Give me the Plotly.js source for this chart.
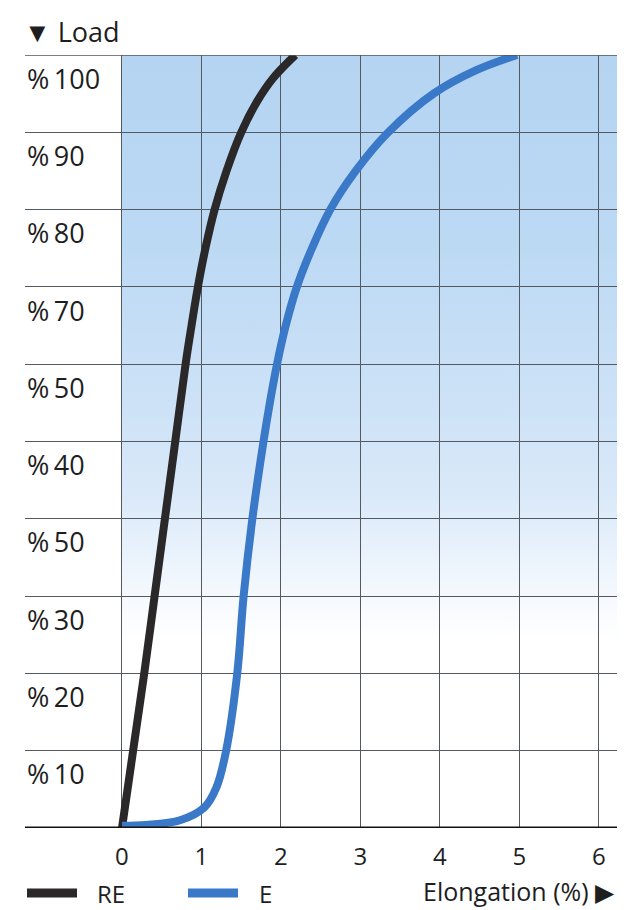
<!DOCTYPE html>
<html><head><meta charset="utf-8">
<script src="https://cdn.plot.ly/plotly-3.0.1.min.js"></script>
<style>html,body{margin:0;padding:0;background:#fff}#chart{width:639px;height:910px}</style>
</head><body><div id="chart"></div>
<script>
const seriesNames = ['RE', 'E'];
const reElong = [0, 0.14, 0.28, 0.41, 0.54, 0.67, 0.80, 0.875, 0.955, 1.05, 1.165, 1.315, 1.50, 1.70, 1.90, 2.18];
const reLoad  = [0, 10, 20, 30, 40, 50, 60, 65, 70, 75, 80, 85, 90, 94, 97, 100];
const eElong = [0, 0.30, 0.73, 1.04, 1.19, 1.31, 1.45, 1.53, 1.64, 1.78, 1.86, 1.95, 2.06, 2.20, 2.39, 2.62, 2.94, 3.35, 3.92, 4.45, 4.97];
const eLoad  = [0.3, 0.4, 1.0, 2.7, 5.3, 10, 20, 30, 40, 50, 55, 60, 65, 70, 75, 80, 85, 90, 95, 98, 100];
const xTicks = [0, 1, 2, 3, 4, 5, 6];
const yGrid = [0, 10, 20, 30, 40, 50, 60, 70, 80, 90, 100];
const yLabelText = ['%\u2009100', '%\u200990', '%\u200980', '%\u200970', '%\u200950', '%\u200940', '%\u200950', '%\u200930', '%\u200920', '%\u200910'];
const yLabelAt = [97, 87, 77, 67, 57, 47, 37, 27, 17, 7];
const seriesColors = ['#2a2828', '#3a78c8'];

const FONT = '"Open Sans", "Noto Sans", sans-serif';
const XR = [-1.22, 6.227];
const YR = [0, 100];
const L = 25, R = 22, T = 55, B = 82, W = 639, H = 910;
const PW = W - L - R, PH = H - T - B;
const px2x = p => (p - L) / PW;
const py2y = p => (H - B - p) / PH;

const svg = "<svg xmlns='http://www.w3.org/2000/svg' width='100' height='100' preserveAspectRatio='none'>" +
  "<defs><linearGradient id='g' x1='0' y1='0' x2='0' y2='1'>" +
  "<stop offset='0' stop-color='#b4d4f2'/>" +
  "<stop offset='0.25' stop-color='#bcd9f4'/>" +
  "<stop offset='0.45' stop-color='#cde2f7'/>" +
  "<stop offset='0.57' stop-color='#dae9f9'/>" +
  "<stop offset='0.65' stop-color='#eaf3fc'/>" +
  "<stop offset='0.72' stop-color='#f9fbfe'/>" +
  "<stop offset='0.76' stop-color='#ffffff'/>" +
  "<stop offset='1' stop-color='#ffffff'/>" +
  "</linearGradient></defs><rect width='100' height='100' fill='url(#g)'/></svg>";

const traces = [
  {x: reElong, y: reLoad, name: seriesNames[0], type: 'scatter', mode: 'lines', cliponaxis: false,
   line: {color: seriesColors[0], width: 8, shape: 'spline', smoothing: 1}},
  {x: eElong, y: eLoad, name: seriesNames[1], type: 'scatter', mode: 'lines', cliponaxis: false,
   line: {color: seriesColors[1], width: 8, shape: 'spline', smoothing: 1}}
];

const annotations = yLabelText.map((t, i) => ({
  text: t, xref: 'paper', x: 0, xanchor: 'left', yref: 'y', y: yLabelAt[i], yanchor: 'middle',
  showarrow: false, font: {family: FONT, size: 27, color: '#1e1e1e'}
}));
annotations.push({text: '\u25BC Load', xref: 'paper', yref: 'paper', x: px2x(22), y: py2y(31), yanchor: 'middle', xanchor: 'left',
  showarrow: false, font: {family: FONT, size: 27, color: '#1e1e1e'}});
annotations.push({text: 'Elongation (%) \u25B6', xref: 'paper', yref: 'paper', x: 1.0, xanchor: 'right', y: py2y(891), yanchor: 'middle',
  showarrow: false, font: {family: FONT, size: 25, color: '#1e1e1e'}});

// manual legend
const legendStart = [27, 188];
const legendTextAt = [95, 257];
const shapes = [
  {type: 'line', xref: 'paper', x0: 0, x1: 1, yref: 'y', y0: 100, y1: 100, line: {color: '#4f545b', width: 1.6}, layer: 'above'},
  {type: 'line', xref: 'paper', x0: 0, x1: 1, yref: 'y', y0: 0, y1: 0, line: {color: '#111', width: 3}, layer: 'above'}
];
seriesNames.forEach((n, i) => {
  shapes.push({type: 'line', xref: 'paper', yref: 'paper', x0: px2x(legendStart[i]), x1: px2x(legendStart[i] + 50),
    y0: py2y(893), y1: py2y(893), line: {color: seriesColors[i], width: 9}});
  annotations.push({text: n, xref: 'paper', yref: 'paper', x: px2x(legendTextAt[i]), xanchor: 'left', y: py2y(893), yanchor: 'middle',
    showarrow: false, font: {family: FONT, size: 24, color: '#1e1e1e'}});
});

const layout = {
  width: W, height: H,
  margin: {l: L, r: R, t: T, b: B, autoexpand: false},
  paper_bgcolor: '#ffffff', plot_bgcolor: 'rgba(0,0,0,0)',
  showlegend: false,
  xaxis: {range: XR, tickvals: xTicks, ticktext: xTicks.map(String), showgrid: true, gridcolor: '#555a61', gridwidth: 1,
    zeroline: false, showline: false, ticks: '', ticklabelstandoff: 12, tickfont: {family: FONT, size: 24, color: '#1e1e1e'}, fixedrange: true},
  yaxis: {range: YR, tickvals: yGrid, showticklabels: false, showgrid: true, gridcolor: '#555a61', gridwidth: 1,
    zeroline: false, showline: false, ticks: '', fixedrange: true},
  images: [{source: 'data:image/svg+xml;charset=utf-8,' + encodeURIComponent(svg), xref: 'x', yref: 'y',
    x: 0, y: 100, sizex: XR[1], sizey: 100, xanchor: 'left', yanchor: 'top', sizing: 'stretch', layer: 'below'}],
  shapes: shapes,
  annotations: annotations
};

Plotly.newPlot('chart', traces, layout, {displayModeBar: false, staticPlot: true});
</script></body></html>
